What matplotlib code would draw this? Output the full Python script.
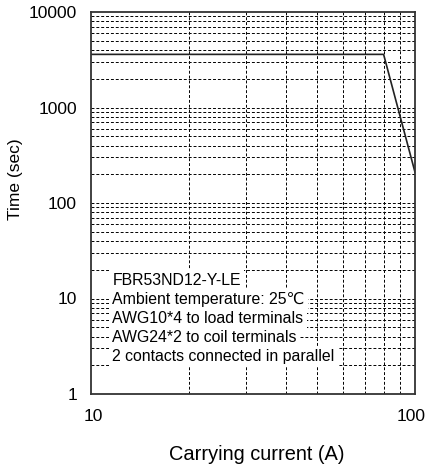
import matplotlib

matplotlib.use("Agg")
import matplotlib.pyplot as plt
import matplotlib.transforms as mtransforms
from matplotlib.ticker import FixedLocator

plt.rcParams["font.family"] = ["Liberation Sans", "DejaVu Sans"]

# carrying current (A) vs. time (sec)
current = [10, 80, 100]
time_sec = [3600, 3600, 210]

notes = [
    "FBR53ND12-Y-LE",
    "Ambient temperature: 25\u2103",
    "AWG10*4 to load terminals",
    "AWG24*2 to coil terminals",
    "2 contacts connected in parallel",
]

fig = plt.figure(figsize=(4.28, 4.68), dpi=100)
ax = fig.add_axes([91 / 428, 1 - 394 / 468, 324 / 428, 382 / 468])

ax.set_xscale("log")
ax.set_yscale("log")
ax.set_xlim(10, 100)
ax.set_ylim(1, 10000)

x_grid = [20, 30, 40, 50, 60, 70, 80, 90]
y_grid = [m * 10 ** e for e in range(4) for m in range(1, 10)][1:]
grid_kw = dict(color="black", lw=0.7, ls=(0, (3, 2)), zorder=1)
for gx in x_grid:
    ax.axvline(gx, **grid_kw)
for gy in y_grid:
    ax.axhline(gy, **grid_kw)

ax.plot(current, time_sec, color="#222222", lw=1.2, zorder=3)

ax.xaxis.set_major_locator(FixedLocator([10, 100]))
ax.xaxis.set_minor_locator(FixedLocator([]))
ax.yaxis.set_major_locator(FixedLocator([1, 10, 100, 1000, 10000]))
ax.yaxis.set_minor_locator(FixedLocator([]))
ax.set_xticklabels(["10", "100"])
ax.set_yticklabels(["1", "10", "100", "1000", "10000"])
ax.tick_params(length=0, labelsize=12.5)
ax.tick_params(axis="x", pad=11)
ax.tick_params(axis="y", pad=10)
for s in ax.spines.values():
    s.set_linewidth(1.3)
    s.set_color("#333333")
    s.set_zorder(4)

# nudge the x tick labels so "100" stays inside the figure
for lbl, dx in zip(ax.get_xticklabels(), [2, -4]):
    lbl.set_transform(lbl.get_transform()
                      + mtransforms.ScaledTranslation(dx / 100, 0, fig.dpi_scale_trans))

ax.set_xlabel("Carrying current (A)", fontsize=14.4, va="top")
ax.xaxis.set_label_coords(0.512, -0.133)
ax.set_ylabel("Time (sec)", fontsize=12.5)
ax.yaxis.set_label_coords(-0.21, 0.563)

# note block: one white-backed text per line
y0, step = 0.298, 0.0502
for i, line in enumerate(notes):
    ax.text(0.066, y0 - i * step, line, transform=ax.transAxes,
            fontsize=11.4, va="center", ha="left", zorder=5,
            bbox=dict(facecolor="white", edgecolor="none", pad=2.2))

fig.savefig("out.png", dpi=100)
